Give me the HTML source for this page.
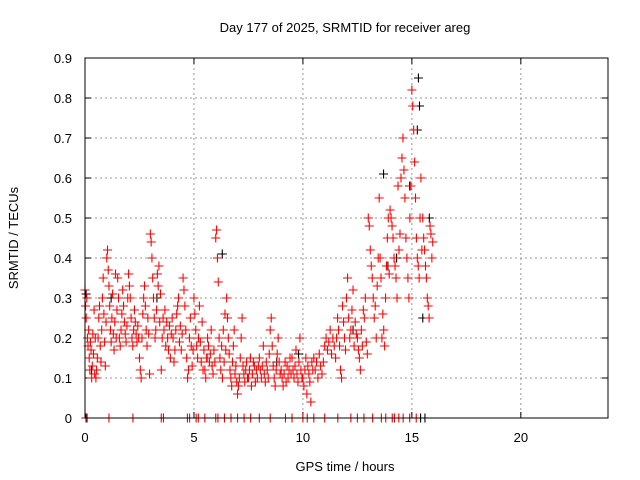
<!DOCTYPE html>
<html><head><meta charset="utf-8"><style>
body{margin:0;background:#fff}
svg{display:block;font-family:"Liberation Sans",sans-serif;font-size:13px}
</style></head><body>
<svg id="c" width="640" height="480">
<text x="345" y="32" text-anchor="middle">Day 177 of 2025, SRMTID for receiver areg</text>
<text x="345" y="471" text-anchor="middle">GPS time / hours</text>
<text transform="translate(18,238) rotate(-90)" text-anchor="middle">SRMTID / TECUs</text>
<g id="grid"></g>
<g id="ticks"></g>
<g id="pts"></g>
<rect x="85" y="58" width="523" height="360" fill="none" stroke="#000"/>
</svg>
<script>
const xTicks=[0,5,10,15,20];
const yTicks=[0,0.1,0.2,0.3,0.4,0.5,0.6,0.7,0.8,0.9];
const segStart=[0,0.5,1,1.5,2,2.5,3,3.5,4,4.5,5,5.5,6,6.5,7,7.5,8,8.5,9,9.5,10,10.5,11,11.5,12,12.5,13,13.5,14,14.5,15,15.5];
const segValues=[
[0.32,0.28,0.25,0.3,0.2,0.18,0.22,0.15,0.12,0.19,0.17,0.1,0.13,0.21,0.16,0.27,0.11,0.2],
[0.1,0.12,0.15,0.2,0.25,0.28,0.18,0.14,0.22,0.3,0.35,0.26,0.19,0.13,0.24],
[0.4,0.42,0.37,0.33,0.28,0.22,0.19,0.25,0.31,0.21,0.17,0.24,0.36,0.2,0.27],
[0.35,0.3,0.2,0.18,0.22,0.26,0.32,0.28,0.24,0.21,0.19,0.23,0.3],
[0.36,0.33,0.3,0.25,0.2,0.18,0.22,0.27,0.24,0.21,0.19,0.23,0.2],
[0.15,0.12,0.1,0.2,0.26,0.3,0.33,0.28,0.22,0.18,0.25,0.21,0.11],
[0.46,0.44,0.4,0.35,0.3,0.25,0.2,0.22,0.27,0.36,0.33,0.38,0.24,0.31],
[0.12,0.2,0.25,0.22,0.27,0.18,0.24,0.2,0.17,0.23,0.15,0.21],
[0.25,0.2,0.14,0.17,0.22,0.26,0.28,0.3,0.19,0.23,0.17,0.21],
[0.35,0.32,0.28,0.22,0.15,0.1,0.12,0.2,0.25,0.18,0.13,0.17],
[0.3,0.26,0.22,0.18,0.15,0.2,0.28,0.19,0.14,0.24,0.12,0.17],
[0.12,0.1,0.15,0.2,0.18,0.14,0.16,0.22,0.13,0.11,0.17,0.14],
[0.45,0.47,0.4,0.34,0.2,0.15,0.12,0.18,0.1,0.22,0.14,0.26,0.17],
[0.3,0.25,0.2,0.16,0.12,0.1,0.08,0.14,0.18,0.22,0.11,0.13,0.09],
[0.06,0.08,0.1,0.15,0.2,0.25,0.13,0.11,0.09,0.12,0.14,0.1],
[0.1,0.12,0.15,0.08,0.11,0.14,0.13,0.09,0.12,0.1,0.13],
[0.15,0.12,0.1,0.13,0.18,0.11,0.09,0.14,0.12,0.1,0.16],
[0.22,0.25,0.18,0.13,0.1,0.08,0.12,0.16,0.2,0.14,0.11],
[0.12,0.1,0.08,0.11,0.14,0.09,0.13,0.1,0.12,0.15,0.11],
[0.15,0.12,0.1,0.13,0.17,0.11,0.09,0.14,0.2,0.12,0.1],
[0.1,0.08,0.12,0.15,0.06,0.13,0.11,0.09,0.04,0.14,0.12],
[0.15,0.12,0.14,0.1,0.16,0.13,0.11,0.14],
[0.18,0.2,0.17,0.19,0.22,0.16,0.2,0.18],
[0.15,0.2,0.25,0.22,0.18,0.12,0.1,0.28,0.24,0.2,0.17],
[0.3,0.35,0.25,0.2,0.22,0.27,0.32,0.18,0.24,0.21],
[0.2,0.17,0.15,0.12,0.22,0.18,0.27,0.25,0.3,0.19,0.16],
[0.5,0.48,0.42,0.38,0.35,0.3,0.25,0.28,0.2,0.33,0.4],
[0.55,0.4,0.35,0.2,0.26,0.22,0.18,0.3,0.38,0.45,0.5,0.36],
[0.52,0.5,0.48,0.45,0.4,0.38,0.35,0.3,0.58,0.42,0.46],
[0.6,0.65,0.7,0.62,0.55,0.45,0.4,0.35,0.3,0.5,0.58],
[0.82,0.78,0.72,0.64,0.55,0.45,0.4,0.38,0.35,0.5,0.6,0.42],
[0.5,0.45,0.42,0.38,0.35,0.3,0.28,0.25,0.48,0.46,0.4,0.44]];
const blackHours=[0.05,0.3,1.2,3.3,5.6,6.3,8.8,9.8,12.3,13.7,13.9,14.3,14.9,15.25,15.3,15.35,15.5,15.8];
const blackValues=[0.31,0.12,0.3,0.3,0.15,0.41,0.14,0.16,0.22,0.61,0.38,0.4,0.58,0.72,0.85,0.78,0.25,0.5];
const zeroRedHours=[0.1,1.1,2.2,3.5,3.6,4.7,4.8,5.1,5.2,5.5,6.0,6.1,6.4,6.7,7.0,7.3,7.6,8.0,8.5,9.2,9.5,10.0,10.2,10.5,11.0,11.6,12.2,12.5,12.8,13.2,13.6,13.8,14.1,14.2,14.4,14.6,14.9,15.2];
const zeroBlackHours=[0.05,15.4,15.6];
const X=h=>85+h*523/24, Y=v=>418-v*400;
const NS="http://www.w3.org/2000/svg";
const grid=document.getElementById('grid'),ticks=document.getElementById('ticks'),pts=document.getElementById('pts');
function mk(tag,at,p){const e=document.createElementNS(NS,tag);for(const k in at)e.setAttribute(k,at[k]);p.appendChild(e);return e;}
xTicks.forEach(t=>{const x=X(t);
 if(t>0){const g=mk('line',{x1:x,x2:x,y1:58,y2:418,stroke:'#999','stroke-dasharray':'2,3'},grid);
 
 }
 mk('line',{x1:x,x2:x,y1:418,y2:412,stroke:'#000'},ticks);mk('line',{x1:x,x2:x,y1:58,y2:64,stroke:'#000'},ticks);
 const l=mk('text',{x:x,y:442,'text-anchor':'middle'},ticks);l.textContent=t;
 
 });
yTicks.forEach(t=>{const y=Y(t);
 if(t>0){const g=mk('line',{x1:85,x2:608,y1:y,y2:y,stroke:'#999','stroke-dasharray':'2,3'},grid);
 
 }
 mk('line',{x1:85,x2:91,y1:y,y2:y,stroke:'#000'},ticks);mk('line',{x1:608,x2:602,y1:y,y2:y,stroke:'#000'},ticks);
 const l=mk('text',{x:72,y:y+5,'text-anchor':'end'},ticks);l.textContent=t===0?'0':t.toFixed(1);
 
 });
function plus(h,v,col){const x=X(h),y=Y(v);
 const p=mk('path',{d:`M${x-4.5},${y}h9M${x},${y-4.5}v9`,stroke:col,'stroke-width':1.1,fill:'none'},pts);
 
 }
blackHours.forEach((h,i)=>plus(h,blackValues[i],'#000'));
zeroBlackHours.forEach(h=>plus(h,0,'#000'));
segValues.forEach((vals,s)=>vals.forEach((v,i)=>plus(segStart[s]+0.5*i/vals.length,v,'#f00')));
zeroRedHours.forEach(h=>plus(h,0,'#f00'));
</script>
</body></html>
